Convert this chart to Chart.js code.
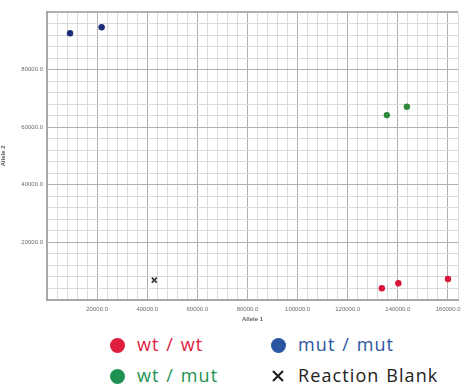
<!DOCTYPE html>
<html>
<head>
<meta charset="utf-8">
<script src="https://cdn.jsdelivr.net/npm/chart.js@4"></script>
<style>
  html, body { margin: 0; padding: 0; background: #fff; }
  body { width: 464px; height: 385px; position: relative; overflow: hidden; }
  #plot { position: absolute; left: 0; top: 0; filter: blur(0.45px); }
  .key { position: absolute; font-family: "Open Sans", sans-serif; font-weight: 400; font-size: 18px; letter-spacing: 1.1px; word-spacing: 1px; line-height: 20px; white-space: nowrap; }
  .mark { position: absolute; }
</style>
</head>
<body>
<canvas id="plot" width="464" height="323"></canvas>
<div id="legend"></div>
<script>
// Genotype groups
const groupNames  = ['wt / wt', 'mut / mut', 'wt / mut', 'Reaction Blank'];
const groupColors = ['#d8163c', '#1d2c78', '#2f8a3c', '#333333'];
const legendColors = ['#e01c3f', '#2a55a3', '#1e9152', '#222222'];

// Allele 1 / Allele 2 signal per well
const wtwtX   = [133600, 140200, 160000];
const wtwtY   = [4100, 5800, 7300];
const mutmutX = [9200, 21800];
const mutmutY = [92600, 94700];
const wtmutX  = [135600, 143600];
const wtmutY  = [64200, 67100];
const blankX  = [42800];
const blankY  = [6900];

// Axis settings
const xMax = 164000;
const yMax = 100000;
const minorStep = 4000;
const majorStep = 20000;

function pts(xs, ys) { return xs.map((x, i) => ({ x: x, y: ys[i] })); }

const seriesX = [wtwtX, mutmutX, wtmutX, blankX];
const seriesY = [wtwtY, mutmutY, wtmutY, blankY];

const datasets = groupNames.map((name, i) => ({
  label: name,
  data: pts(seriesX[i], seriesY[i]),
  pointStyle: i === 3 ? 'crossRot' : 'circle',
  pointRadius: i === 3 ? 3.5 : 3.2,
  borderWidth: i === 3 ? 1.6 : 0,
  backgroundColor: groupColors[i],
  borderColor: groupColors[i]
}));

const tickLabel = v => (v > 0 && v % majorStep === 0 && v !== yMax) ? v.toFixed(1) : '';
const gridColor = ctx => (ctx.tick && ctx.tick.value % majorStep === 0) ? '#b0b0b0' : '#dadada';

new Chart(document.getElementById('plot'), {
  type: 'scatter',
  data: { datasets: datasets },
  options: {
    responsive: false,
    animation: false,
    devicePixelRatio: 1,
    layout: { padding: { top: 12, right: 6, left: 0, bottom: 0 } },
    plugins: { legend: { display: false }, tooltip: { enabled: false } },
    scales: {
      x: {
        type: 'linear', min: 0, max: xMax,
        ticks: {
          stepSize: minorStep, autoSkip: false, maxRotation: 0,
          font: { size: 6, family: 'Liberation Sans' }, color: '#6d6d6d', padding: 6,
          callback: v => (v > 0 && v % majorStep === 0) ? v.toFixed(1) : ''
        },
        grid: { color: gridColor, drawTicks: false },
        border: { color: '#a8a8a8', width: 2 },
        title: { display: true, text: 'Allele 1', font: { size: 6, family: 'Liberation Sans', weight: 'bold' }, color: '#666', padding: { top: 0, bottom: 0 } },
        afterFit: s => { s.height = 23; }
      },
      y: {
        type: 'linear', min: 0, max: yMax,
        ticks: {
          stepSize: minorStep, autoSkip: false,
          font: { size: 6, family: 'Liberation Sans' }, color: '#6d6d6d', padding: 4,
          callback: tickLabel
        },
        grid: {
          color: gridColor, drawTicks: false,
          lineWidth: ctx => (ctx.tick && ctx.tick.value === yMax) ? 2 : 1
        },
        border: { color: '#a8a8a8', width: 2 },
        title: { display: true, text: 'Allele 2', font: { size: 6, family: 'Liberation Sans', weight: 'bold' }, color: '#555', padding: 0 },
        afterFit: s => { s.width = 47; }
      }
    }
  }
});

// Two-column key below the plot
const legend = document.getElementById('legend');
const keyPos = [[117, 345], [278, 345], [117, 376], [278, 376]];
groupNames.forEach((name, i) => {
  const [cx, cy] = keyPos[i];
  const mark = document.createElement('div');
  mark.className = 'mark';
  if (i === 3) {
    mark.innerHTML = '<svg width="14" height="14" viewBox="0 0 14 14"><path d="M2 2 L12 12 M12 2 L2 12" stroke="' + legendColors[i] + '" stroke-width="2.2"/></svg>';
    mark.style.left = (cx - 7) + 'px';
    mark.style.top = (cy - 7) + 'px';
  } else {
    mark.style.width = '15px'; mark.style.height = '15px';
    mark.style.borderRadius = '50%';
    mark.style.background = legendColors[i];
    mark.style.left = (cx - 7.5) + 'px';
    mark.style.top = (cy - 7.5) + 'px';
  }
  legend.appendChild(mark);
  const label = document.createElement('div');
  label.className = 'key';
  label.textContent = name;
  label.style.color = legendColors[i];
  label.style.left = (cx + 20) + 'px';
  label.style.top = (cy - 11) + 'px';
  legend.appendChild(label);
});
</script>
</body>
</html>
